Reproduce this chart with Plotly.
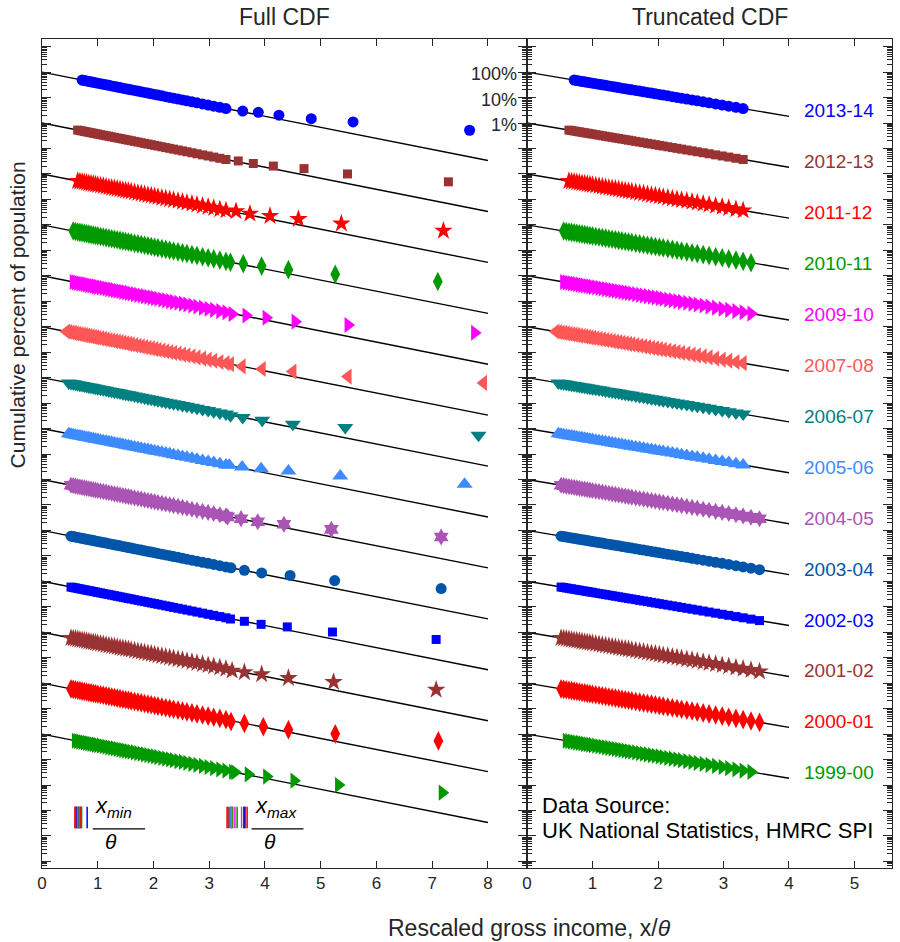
import math
import plotly.graph_objects as go

# ---------------- data ----------------
YEARS = ["2013-14", "2012-13", "2011-12", "2010-11", "2009-10", "2007-08", "2006-07",
         "2005-06", "2004-05", "2003-04", "2002-03", "2001-02", "2000-01", "1999-00"]
COLORS = ["#0000FF", "#993333", "#FF0000", "#009900", "#FF00FF", "#FF5757", "#008080",
          "#3D8BFF", "#AA55B5", "#0055AA", "#0000FF", "#993333", "#FF0000", "#009900"]
SYMBOLS = ["circle", "square", "star", "diamond-tall", "triangle-right", "triangle-left",
           "triangle-down", "triangle-up", "hexagram", "circle", "square", "star",
           "diamond-tall", "triangle-right"]
SIZES = [11, 9, 14, 14, 14, 14, 14, 14, 13, 11, 9, 14, 14, 14]

# body of each distribution (rescaled income x/theta, cumulative percent above x)
BODY_X = [0.36, 0.40, 0.44, 0.48, 0.52, 0.56, 0.60, 0.64, 0.68, 0.72, 0.76, 0.80, 0.84,
          0.88, 0.92, 0.96, 1.00, 1.05, 1.10, 1.15, 1.20, 1.25, 1.30, 1.35, 1.40, 1.45,
          1.50, 1.55, 1.60, 1.66, 1.72, 1.78, 1.84, 1.90, 1.96, 2.02, 2.08, 2.15, 2.22,
          2.29, 2.36, 2.44, 2.52, 2.60, 2.69, 2.78, 2.88, 2.98, 3.08, 3.19, 3.30, 3.42,
          3.55]
BODY_PCT = [69.77, 67.03, 64.40, 61.88, 59.45, 57.12, 54.88, 52.73, 50.66, 48.68, 46.77,
            44.93, 43.17, 41.48, 39.85, 38.29, 36.79, 34.99, 33.29, 31.66, 30.12, 28.65,
            27.25, 25.92, 24.66, 23.46, 22.31, 21.22, 20.19, 19.01, 17.91, 16.86, 15.88,
            14.96, 14.09, 13.26, 12.49, 11.65, 10.86, 10.13, 9.44, 8.72, 8.05, 7.43,
            6.79, 6.20, 5.61, 5.08, 4.60, 4.12, 3.69, 3.27, 2.87]

START_X = [0.71, 0.64, 0.61, 0.53, 0.55, 0.44, 0.48, 0.47, 0.49, 0.51, 0.52, 0.52, 0.52, 0.57]
XMIN = [0.81, 0.66, 0.59, 0.65, 0.64, 0.62, 0.67, 0.68, 0.63, 0.70, 0.61, 0.60, 0.69, 0.71]
XMAX = [3.40, 3.34, 3.32, 3.42, 3.46, 3.40, 3.37, 3.39, 3.58, 3.62, 3.63, 3.65, 3.68, 3.50]

# top percentiles (sparse tail points in the full CDF)
TAIL_X = [
    [3.60, 3.88, 4.25, 4.83, 5.58, 7.67],
    [3.52, 3.79, 4.15, 4.70, 5.48, 7.29],
    [3.48, 3.73, 4.09, 4.60, 5.37, 7.20],
    [3.38, 3.61, 3.94, 4.42, 5.26, 7.10],
    [3.41, 3.66, 4.02, 4.54, 5.49, 7.76],
    [3.38, 3.59, 3.95, 4.50, 5.49, 7.92],
    [3.38, 3.60, 3.95, 4.50, 5.44, 7.83],
    [3.36, 3.59, 3.93, 4.42, 5.35, 7.58],
    [3.33, 3.57, 3.87, 4.34, 5.19, 7.16],
    [3.39, 3.63, 3.94, 4.45, 5.25, 7.16],
    [3.38, 3.63, 3.93, 4.40, 5.21, 7.07],
    [3.41, 3.63, 3.94, 4.42, 5.23, 7.07],
    [3.39, 3.63, 3.97, 4.42, 5.26, 7.11],
    [3.46, 3.70, 4.03, 4.52, 5.32, 7.18],
]
TAIL_PCT = [
    [2.95, 2.63, 2.04, 1.48, 1.10, 0.52],
    [3.24, 2.57, 2.04, 1.62, 1.00, 0.49],
    [3.39, 2.75, 2.24, 1.70, 1.12, 0.59],
    [3.39, 2.95, 2.40, 1.74, 1.15, 0.60],
    [3.16, 2.75, 2.24, 1.58, 1.17, 0.58],
    [3.39, 2.75, 2.19, 1.74, 1.10, 0.62],
    [3.16, 2.69, 2.14, 1.48, 1.10, 0.55],
    [3.63, 3.09, 2.63, 2.14, 1.38, 0.65],
    [3.39, 2.88, 2.19, 1.74, 1.10, 0.55],
    [3.39, 2.69, 2.14, 1.70, 1.07, 0.52],
    [3.31, 2.69, 2.04, 1.62, 1.02, 0.52],
    [3.09, 2.69, 2.24, 1.58, 1.10, 0.55],
    [3.09, 2.63, 1.95, 1.48, 1.02, 0.54],
    [3.16, 2.63, 2.14, 1.48, 1.00, 0.50],
]
STACK_DECADES = 2          # each year shifted down by a factor 100
FIT_END_FULL = 8
FIT_END_TRUNC = 4

FONT = "Liberation Sans, Arial, Helvetica, sans-serif"
TXT = "#262626"

fig = go.Figure()

for i, year in enumerate(YEARS):
    shift = 10.0 ** (-STACK_DECADES * i)
    col = COLORS[i]
    # exponential fit lines
    fig.add_trace(go.Scatter(x=[0, FIT_END_FULL], y=[shift, math.exp(-FIT_END_FULL) * shift],
                             mode="lines", line=dict(color="black", width=1.4),
                             xaxis="x", yaxis="y", showlegend=False, hoverinfo="skip"))
    fig.add_trace(go.Scatter(x=[0, FIT_END_TRUNC], y=[shift, math.exp(-FIT_END_TRUNC) * shift],
                             mode="lines", line=dict(color="black", width=1.4),
                             xaxis="x2", yaxis="y2", showlegend=False, hoverinfo="skip"))
    # full CDF
    bx, by = [], []
    for x, p in zip(BODY_X, BODY_PCT):
        if x >= START_X[i] and x <= XMAX[i] and x < TAIL_X[i][0]:
            bx.append(x)
            by.append(p / 100.0 * shift)
    fx = bx + TAIL_X[i]
    fy = by + [p / 100.0 * shift for p in TAIL_PCT[i]]
    mk = dict(symbol=SYMBOLS[i], size=SIZES[i], color=col, line=dict(width=0))
    fig.add_trace(go.Scatter(x=fx, y=fy, mode="markers", marker=mk, name=year,
                             xaxis="x", yaxis="y", showlegend=False))
    # truncated CDF
    tx, ty = [], []
    for x, p in zip(BODY_X, BODY_PCT):
        if x >= START_X[i] and x <= XMAX[i]:
            tx.append(x)
            ty.append(p / 100.0 * shift)
    fig.add_trace(go.Scatter(x=tx, y=ty, mode="markers", marker=mk, name=year,
                             xaxis="x2", yaxis="y2", showlegend=False))
    # x_min / x_max marker bars
    for v in (XMIN[i], XMAX[i]):
        fig.add_trace(go.Scatter(x=[v, v], y=[10 ** -28.85, 10 ** -29.70], mode="lines",
                                 line=dict(color=col, width=1.5), xaxis="x", yaxis="y",
                                 showlegend=False, hoverinfo="skip"))

# fraction bars of the x_min/theta and x_max/theta keys
for x0, x1 in ((0.91, 1.85), (3.76, 4.69)):
    fig.add_trace(go.Scatter(x=[x0, x1], y=[10 ** -29.72, 10 ** -29.72], mode="lines",
                             line=dict(color="black", width=1.3), xaxis="x", yaxis="y",
                             showlegend=False, hoverinfo="skip"))

annotations = []
for i, year in enumerate(YEARS):
    annotations.append(dict(x=4.2, y=-1.52 - STACK_DECADES * i, xref="x2", yref="y2",
                            text=year, showarrow=False, xanchor="left", yanchor="middle",
                            font=dict(family=FONT, size=19, color=COLORS[i])))
for k, lab in enumerate(["100%", "10%", "1%"]):
    annotations.append(dict(x=8.55, y=-k, xref="x", yref="y", text=lab, showarrow=False,
                            xanchor="right", yanchor="middle", yshift=-2,
                            font=dict(family=FONT, size=18, color=TXT)))
annotations += [
    dict(x=0.2853, y=1.0265, xref="paper", yref="paper", text="Full CDF", showarrow=False,
         xanchor="center", yanchor="middle", font=dict(family=FONT, size=23, color=TXT)),
    dict(x=0.7853, y=1.0265, xref="paper", yref="paper", text="Truncated CDF", showarrow=False,
         xanchor="center", yanchor="middle", font=dict(family=FONT, size=23, color=TXT)),
    dict(x=0.2, y=-28.79, xref="x2", yref="y2", text="Data Source:", showarrow=False,
         xanchor="left", yanchor="middle", font=dict(family=FONT, size=22, color="black")),
    dict(x=0.2, y=-29.77, xref="x2", yref="y2", text="UK National Statistics, HMRC SPI",
         showarrow=False, xanchor="left", yanchor="middle",
         font=dict(family=FONT, size=22, color="black")),
    dict(x=0.92, y=-28.85, xref="x", yref="y", text="<i>x</i><sub><i>min</i></sub>",
         showarrow=False, xanchor="left", yanchor="middle",
         font=dict(family=FONT, size=22, color="black")),
    dict(x=1.24, y=-30.23, xref="x", yref="y", text="<i>θ</i>", showarrow=False,
         xanchor="center", yanchor="middle", font=dict(family=FONT, size=21, color="black")),
    dict(x=3.78, y=-28.85, xref="x", yref="y", text="<i>x</i><sub><i>max</i></sub>",
         showarrow=False, xanchor="left", yanchor="middle",
         font=dict(family=FONT, size=22, color="black")),
    dict(x=4.09, y=-30.23, xref="x", yref="y", text="<i>θ</i>", showarrow=False,
         xanchor="center", yanchor="middle", font=dict(family=FONT, size=21, color="black")),
    dict(x=0.574, y=-0.072, xref="paper", yref="paper", text="Rescaled gross income, x/<i>θ</i>",
         showarrow=False, xanchor="center", yanchor="middle",
         font=dict(family=FONT, size=23, color=TXT)),
    dict(x=-0.029, y=0.667, xref="paper", yref="paper", text="Cumulative percent of population",
         showarrow=False, xanchor="center", yanchor="middle", textangle=-90,
         font=dict(family=FONT, size=21, color=TXT)),
]

xcommon = dict(tick0=0, dtick=1, ticks="inside", ticklen=7, tickwidth=1, tickcolor=TXT,
               mirror="ticks", showline=True, linecolor=TXT, linewidth=1, showgrid=False,
               zeroline=False, tickfont=dict(family=FONT, size=17, color=TXT))
ycommon = dict(type="log", range=[-31.26, 1.30], tick0=0, dtick=1, ticks="inside", ticklen=9,
               tickwidth=1, tickcolor=TXT, showticklabels=False, mirror="ticks",
               showline=True, linecolor=TXT, linewidth=1, showgrid=False, zeroline=False,
               minor=dict(ticks="inside", ticklen=5, dtick="D1", tickcolor=TXT, tickwidth=1,
                          showgrid=False))

fig.update_layout(
    width=900, height=942,
    margin=dict(l=42, r=8, t=39, b=74, autoexpand=False),
    paper_bgcolor="white", plot_bgcolor="white",
    xaxis=dict(domain=[0, 0.5706], range=[0, 8.7], anchor="y", **xcommon),
    xaxis2=dict(domain=[0.5706, 1], range=[0, 5.573], anchor="y2", **xcommon),
    yaxis=dict(anchor="x", **ycommon),
    yaxis2=dict(anchor="x2", **ycommon),
    annotations=annotations,
    showlegend=False,
)

# drop the browser's default 8 px page margin so the figure sits at the window origin
fig.write_html("out.html", config={"displayModeBar": False},
               post_script="document.body.style.margin='0';document.body.style.overflow='hidden';")
